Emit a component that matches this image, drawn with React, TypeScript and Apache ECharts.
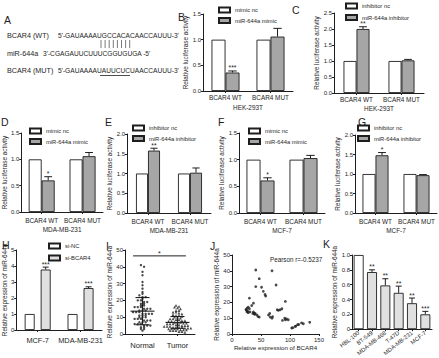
import React, { useEffect, useRef } from 'react';
import * as echarts from 'echarts';

const FONT = '"Liberation Sans Narrow", "Liberation Sans", Arial, sans-serif';
const FONT_W = '"Liberation Sans", Arial, sans-serif';
const INK = '#1e1e1e';
const GRAY = '#a6a6a6';
const LIGHT = '#e0e0e0';

// ---- Panel A ----
const seqLabels = ['BCAR4 (WT)', 'miR-644a', 'BCAR4 (MUT)'];
const seqTexts = ["5'-GAUAAAAUGCCACACAACCAUUU-3'", "3'-CGAGAUUCUUUCGGUGUGA -5'", "5'-GAUAAAAUAUUCUCUAACCAUUU-3'"];

// ---- Panels B-G (luciferase) ----
const lucCats = ['BCAR4 WT', 'BCAR4 MUT'];
const bNc = [1, 1]; const bMimic = [0.36, 1.06]; const bErr = [0.03, 0.16]; const bStars = ['***', ''];
const cNc = [1, 1]; const cInh = [2.0, 1.02]; const cErr = [0.07, 0.03]; const cStars = ['**', ''];
const dNc = [1, 1]; const dMimic = [0.6, 1.06]; const dErr = [0.07, 0.07]; const dStars = ['*', ''];
const eNc = [1, 1]; const eInh = [1.58, 1.02]; const eErr = [0.06, 0.12]; const eStars = ['**', ''];
const fNc = [1, 1]; const fMimic = [0.61, 1.03]; const fErr = [0.05, 0.05]; const fStars = ['*', ''];
const gNc = [1, 1]; const gInh = [1.48, 0.97]; const gErr = [0.07, 0.015]; const gStars = ['*', ''];

// ---- Panel H ----
const hCats = ['MCF-7', 'MDA-MB-231'];
const hNc = [1, 1]; const hSi = [3.78, 2.62]; const hErr = [0.15, 0.08]; const hStars = ['***', '***'];

// ---- Panel I ----
const iCats = ['Normal', 'Tumor'];
const iNormal = [41, 40, 37, 35, 31, 29, 27, 25, 24, 23, 22, 22, 21, 20, 20, 19, 19, 18, 18, 17, 17, 16, 16, 16, 15, 15, 15, 14, 14, 14, 13, 13, 13, 12, 12, 12, 12, 11, 11, 11, 10, 10, 10, 9, 9, 9, 8, 8, 8, 7, 7, 7, 6, 6, 6, 5, 5, 5, 4, 4, 3, 3, 2];
const iTumor = [17, 16.5, 16, 15.5, 15, 14, 14, 13, 13, 12.5, 12, 11.5, 11, 11, 10.5, 10, 10, 9.5, 9, 9, 8.5, 8.5, 8, 8, 7.5, 7.5, 7, 7, 7, 6.5, 6.5, 6, 6, 6, 5.5, 5.5, 5, 5, 5, 4.5, 4.5, 4.5, 4, 4, 4, 4, 3.5, 3.5, 3.5, 3, 3, 3, 3, 2.5, 2.5, 2.5, 2, 2, 2, 1.5, 1.5, 1];
const iMean = [13.6, 6.9];
const iSD = [8.1, 3.5];
const iSig = '*';

// ---- Panel J ----
const jBcar4 = [41, 69, 47, 41, 76, 51, 54, 57, 58, 30, 92, 37, 34, 26, 25, 27, 28, 30, 31, 26, 37, 38, 40, 43, 47, 65, 66, 69, 63, 78, 83, 86, 80, 91, 94, 97, 87, 92, 103, 105, 109, 110, 113, 115, 120, 123, 134, 36, 39, 24, 28, 45, 70];
const jMir = [40.5, 40, 35, 30, 31, 29.6, 27, 25, 24, 22.7, 20.6, 19.5, 18, 16.4, 15, 14.5, 13.5, 16, 14, 14, 14, 13, 13, 12, 10.7, 13, 10.7, 10, 12, 15.3, 15.3, 16, 15, 10, 9.5, 9, 8.6, 9, 3.8, 4, 4.8, 5, 5.9, 6, 7, 6.5, 7.4, 13, 12.5, 15.5, 17, 11, 11];
const jPearson = 'Pearson r=-0.5237';

// ---- Panel K ----
const kCats = ['HBL-100', 'BT-549', 'MDA-MB-468', 'T-47D', 'MDA-MB-231', 'MCF-7'];
const kVals = [1, 0.77, 0.59, 0.49, 0.35, 0.2];
const kErr = [0, 0.03, 0.09, 0.09, 0.07, 0.04];
const kStars = ['', '**', '**', '**', '**', '***'];

const txt = (size: number, family = FONT) => ({ fontSize: size, fontFamily: family, color: INK });
const axisLine = { show: true, lineStyle: { color: INK, width: 1 } };
const tick = (len: number, align = false) => ({ show: true, length: len, alignWithLabel: align, lineStyle: { color: INK, width: 1 } });

function buildOption() {
  const grids: any[] = [];
  const xAxes: any[] = [];
  const yAxes: any[] = [];
  const series: any[] = [];
  const legends: any[] = [];
  const graphics: any[] = [];
  const addGrid = (g: any) => { grids.push({ ...g, containLabel: false }); return grids.length - 1; };
  const addX = (a: any) => { xAxes.push(a); return xAxes.length - 1; };
  const addY = (a: any) => { yAxes.push(a); return yAxes.length - 1; };

  const yDef = (gi: number, max: number, interval: number, name: string, nameGap: number, fmt?: any) => ({
    type: 'value', gridIndex: gi, min: 0, max, interval,
    axisLine, axisTick: tick(2), splitLine: { show: false },
    axisLabel: { ...txt(6), margin: 2, formatter: fmt },
    name, nameLocation: 'middle', nameRotate: 90, nameGap, nameTextStyle: txt(6.4, FONT_W),
  });

  const errRender = (offset: number, cap: number, stars: string[]) => (params: any, api: any) => {
    const i = api.value(0);
    const v = api.value(1);
    const e = api.value(2);
    const base = api.coord([i, v]);
    const top = api.coord([i, v + e]);
    const x = base[0] + offset;
    const children: any[] = [];
    if (e > 0) {
      children.push({ type: 'line', shape: { x1: x, y1: base[1], x2: x, y2: top[1] }, style: { stroke: INK, lineWidth: 1 } });
      children.push({ type: 'line', shape: { x1: x - cap, y1: top[1], x2: x + cap, y2: top[1] }, style: { stroke: INK, lineWidth: 1 } });
    }
    const s = stars[params.dataIndex];
    if (s) {
      children.push({ type: 'text', x, y: top[1] + 0.5, style: { text: s, fontSize: 6.8, fontFamily: FONT_W, fill: INK, align: 'center', verticalAlign: 'bottom' } });
    }
    return { type: 'group', children };
  };

  const barPanel = (p: any) => {
    const gi = addGrid({ left: p.left, top: p.top, width: p.width, height: p.height });
    const xi = addX({
      type: 'category', gridIndex: gi, data: p.cats, axisLine, axisTick: tick(2, true),
      axisLabel: { ...txt(p.xfs || 6.4), margin: p.margin ?? 4, interval: 0 },
      name: p.cell, nameLocation: 'middle', nameGap: p.nameGap ?? 13, nameTextStyle: txt(p.xfs || 6.4),
    });
    const yi = addY(yDef(gi, p.max, p.interval, p.yName, p.yGap, p.fmt));
    const gapFrac = p.gap || 0;
    series.push({ type: 'bar', name: p.names[0], xAxisIndex: xi, yAxisIndex: yi, data: p.nc, barWidth: p.bw, barGap: (gapFrac * 100) + '%', itemStyle: { color: '#fff', borderColor: INK, borderWidth: 0.9 } });
    series.push({ type: 'bar', name: p.names[1], xAxisIndex: xi, yAxisIndex: yi, data: p.tr, barWidth: p.bw, barGap: (gapFrac * 100) + '%', itemStyle: { color: p.color, borderColor: INK, borderWidth: 0.9 } });
    series.push({
      type: 'custom', xAxisIndex: xi, yAxisIndex: yi, z: 5,
      renderItem: errRender((p.bw * (1 + gapFrac)) / 2, p.bw * 0.3, p.stars),
      data: p.cats.map((_: string, i: number) => [i, p.tr[i], p.err[i]]),
    });
    legends.push({
      orient: 'vertical', left: p.lx, top: p.ly, itemWidth: 11, itemHeight: 5, itemGap: p.lgap ?? 3.5,
      data: p.names, textStyle: txt(5.8), padding: 0, selectedMode: false, icon: 'rect',
    });
  };

  const fmt1 = (v: number) => v.toFixed(1);
  const lucName = 'Relative luciferase activity';
  barPanel({ left: 203, top: 14, width: 90, height: 77, cats: lucCats, nc: bNc, tr: bMimic, err: bErr, stars: bStars, names: ['mimic nc', 'miR-644a mimic'], color: GRAY, max: 1.5, interval: 0.5, fmt: fmt1, yName: lucName, yGap: 10, cell: 'HEK-293T', bw: 14, lx: 218, ly: 6.5, margin: 3, nameGap: 13 });
  barPanel({ left: 334, top: 13, width: 90, height: 80, cats: lucCats, nc: cNc, tr: cInh, err: cErr, stars: cStars, names: ['inhibitor nc', 'miR-644a inhibitor'], color: GRAY, max: 2.5, interval: 0.5, fmt: fmt1, yName: lucName, yGap: 10, cell: 'HEK-293T', bw: 13, lx: 345, ly: 2.5, lgap: 4.5, margin: 3, nameGap: 12 });
  barPanel({ left: 19, top: 133, width: 84, height: 79, cats: lucCats, nc: dNc, tr: dMimic, err: dErr, stars: dStars, names: ['mimic nc', 'miR-644a mimic'], color: GRAY, max: 1.5, interval: 0.5, fmt: fmt1, yName: lucName, yGap: 10, cell: 'MDA-MB-231', bw: 13, lx: 29, ly: 127.5, margin: 5, nameGap: 14 });
  barPanel({ left: 127, top: 134, width: 84, height: 79, cats: lucCats, nc: eNc, tr: eInh, err: eErr, stars: eStars, names: ['inhibitor nc', 'miR-644a inhibitor'], color: GRAY, max: 2.0, interval: 0.5, fmt: fmt1, yName: lucName, yGap: 10, cell: 'MDA-MB-231', bw: 12, lx: 132, ly: 124.5, margin: 5, nameGap: 14 });
  barPanel({ left: 239, top: 133, width: 86, height: 80, cats: lucCats, nc: fNc, tr: fMimic, err: fErr, stars: fStars, names: ['mimic nc', 'miR-644a mimic'], color: GRAY, max: 1.5, interval: 0.5, fmt: fmt1, yName: lucName, yGap: 10, cell: 'MCF-7', bw: 14, lx: 248, ly: 127.5, margin: 5, nameGap: 14 });
  barPanel({ left: 355, top: 135, width: 82, height: 78, cats: lucCats, nc: gNc, tr: gInh, err: gErr, stars: gStars, names: ['inhibitor nc', 'miR-644a inhibitor'], color: GRAY, max: 2.0, interval: 0.5, fmt: fmt1, yName: lucName, yGap: 10, cell: 'MCF-7', bw: 13, lx: 357, ly: 124.5, margin: 5, nameGap: 14 });
  barPanel({ left: 16, top: 250, width: 86, height: 80, cats: hCats, nc: hNc, tr: hSi, err: hErr, stars: hStars, names: ['si-NC', 'si-BCAR4'], color: LIGHT, max: 5, interval: 1, yName: 'Relative expression of miR-644a', yGap: 6, bw: 10, gap: 0.6, lx: 48, ly: 242.5, lgap: 5, margin: 7, xfs: 7.4, cell: '' });

  // ---- Panel I ----
  const giI = addGrid({ left: 125, top: 250, width: 70, height: 84 });
  addX({ type: 'category', gridIndex: giI, data: iCats, axisLine, axisTick: tick(2, true), axisLabel: { ...txt(7.6), margin: 7 } });
  const xiI2 = addX({ type: 'value', gridIndex: giI, min: 0, max: 2, show: false });
  const yiI = addY(yDef(giI, 50, 10, 'Relative expression of miR-644a', 8));
  const swarm = (vals: number[], center: number, binSize: number, step: number) => {
    const bins = new Map<number, number[]>();
    vals.forEach((v) => {
      const b = Math.round(v / binSize);
      if (!bins.has(b)) bins.set(b, []);
      bins.get(b)!.push(v);
    });
    const out: number[][] = [];
    bins.forEach((list) => {
      const n = list.length;
      list.forEach((v, j) => out.push([center + (j - (n - 1) / 2) * step, v]));
    });
    return out;
  };
  series.push({ type: 'scatter', xAxisIndex: xiI2, yAxisIndex: yiI, data: swarm(iNormal, 0.5, 1.4, 0.09), symbol: 'circle', symbolSize: 2.4, itemStyle: { color: INK } });
  series.push({ type: 'scatter', xAxisIndex: xiI2, yAxisIndex: yiI, data: swarm(iTumor, 1.5, 1.4, 0.085), symbol: 'triangle', symbolSize: 2.8, itemStyle: { color: INK } });
  series.push({
    type: 'custom', xAxisIndex: xiI2, yAxisIndex: yiI, z: 5,
    data: [[0.5, iMean[0], iSD[0]], [1.5, iMean[1], iSD[1]]],
    renderItem: (params: any, api: any) => {
      const x = api.value(0), m = api.value(1), s = api.value(2);
      const c = api.coord([x, m]);
      const t = api.coord([x, m + s]);
      const b = api.coord([x, m - s]);
      const st = { stroke: INK, lineWidth: 1.1 };
      return {
        type: 'group', children: [
          { type: 'line', shape: { x1: c[0] - 12, y1: c[1], x2: c[0] + 12, y2: c[1] }, style: st },
          { type: 'line', shape: { x1: c[0], y1: t[1], x2: c[0], y2: b[1] }, style: st },
          { type: 'line', shape: { x1: c[0] - 7, y1: t[1], x2: c[0] + 7, y2: t[1] }, style: st },
          { type: 'line', shape: { x1: c[0] - 7, y1: b[1], x2: c[0] + 7, y2: b[1] }, style: st },
        ],
      };
    },
  });
  series.push({
    type: 'custom', xAxisIndex: xiI2, yAxisIndex: yiI, z: 5,
    data: [[0.23, 46.5, 1.74]],
    renderItem: (params: any, api: any) => {
      const a = api.coord([api.value(0), api.value(1)]);
      const b = api.coord([api.value(2), api.value(1)]);
      return {
        type: 'group', children: [
          { type: 'line', shape: { x1: a[0], y1: a[1], x2: b[0], y2: b[1] }, style: { stroke: INK, lineWidth: 1 } },
          { type: 'text', x: (a[0] + b[0]) / 2, y: a[1] + 1, style: { text: iSig, fontSize: 7, fontFamily: FONT_W, fill: INK, align: 'center', verticalAlign: 'bottom' } },
        ],
      };
    },
  });

  // ---- Panel J ----
  const giJ = addGrid({ left: 232, top: 255, width: 87, height: 79 });
  const xiJ = addX({
    type: 'value', gridIndex: giJ, min: 0, max: 150, interval: 50, axisLine, axisTick: tick(2), splitLine: { show: false },
    axisLabel: { ...txt(6), margin: 3 }, name: 'Relative expression of BCAR4', nameLocation: 'middle', nameGap: 10, nameTextStyle: txt(6.2),
  });
  const yiJ = addY(yDef(giJ, 50, 10, 'Relative expression of miR-644a', 9));
  series.push({ type: 'scatter', xAxisIndex: xiJ, yAxisIndex: yiJ, data: jBcar4.map((x, i) => [x, jMir[i]]), symbolSize: 2.8, itemStyle: { color: INK } });
  graphics.push({ type: 'text', x: 270, y: 259, style: { text: jPearson, fontSize: 6.3, fontFamily: FONT, fill: INK, verticalAlign: 'middle' } });

  // ---- Panel K ----
  const giK = addGrid({ left: 352, top: 255, width: 80, height: 79 });
  const xiK = addX({ type: 'category', gridIndex: giK, data: kCats, axisLine, axisTick: tick(2, true), axisLabel: { ...txt(5.8), margin: 3, rotate: 38, interval: 0 } });
  const yiK = addY(yDef(giK, 1, 0.2, 'Relative expression of miR-644a', 11, (v: number) => (v === 0 ? '0' : v.toFixed(1))));
  series.push({
    type: 'bar', xAxisIndex: xiK, yAxisIndex: yiK, barWidth: 10,
    data: kVals.map((v, i) => ({ value: v, itemStyle: { color: i === 0 ? '#fff' : LIGHT, borderColor: INK, borderWidth: 0.9 } })),
  });
  series.push({ type: 'custom', xAxisIndex: xiK, yAxisIndex: yiK, z: 5, renderItem: errRender(0, 3, kStars), data: kCats.map((_, i) => [i, kVals[i], kErr[i]]) });

  // ---- Panel A graphics ----
  const rowY = [35, 53, 70];
  const seqX = [58, 43, 58];
  seqLabels.forEach((l, i) => {
    graphics.push({ type: 'text', x: 7, y: rowY[i], style: { text: l, fontSize: 7.2, fontFamily: FONT_W, fill: INK, verticalAlign: 'middle' } });
    graphics.push({ type: 'text', x: seqX[i], y: rowY[i], style: { text: seqTexts[i], fontSize: 6.6, fontFamily: FONT_W, fill: INK, verticalAlign: 'middle' } });
  });
  for (let k = 0; k < 8; k++) {
    const x = 101 + k * 4.1;
    graphics.push({ type: 'line', shape: { x1: x, y1: 40, x2: x, y2: 48 }, style: { stroke: INK, lineWidth: 0.6 } });
  }
  graphics.push({ type: 'line', shape: { x1: 100, y1: 75.5, x2: 130, y2: 75.5 }, style: { stroke: INK, lineWidth: 0.8 } });

  // panel letters
  const letters: [string, number, number][] = [
    ['A', 4, 14], ['B', 178, 11], ['C', 292, 4], ['D', 1, 116], ['E', 105, 116], ['F', 218, 116],
    ['G', 358, 116], ['H', 2, 239], ['I', 106, 240], ['J', 210, 240], ['K', 323, 238],
  ];
  letters.forEach(([t, x, y]) => graphics.push({ type: 'text', x, y, style: { text: t, fontSize: 10.5, fontFamily: FONT_W, fill: INK, verticalAlign: 'top' } }));

  return {
    animation: false,
    backgroundColor: '#fff',
    grid: grids,
    xAxis: xAxes,
    yAxis: yAxes,
    legend: legends,
    series,
    graphic: graphics,
  };
}

export default function App() {
  const ref = useRef<HTMLDivElement>(null);
  useEffect(() => {
    const chart = echarts.init(ref.current!, null, { renderer: 'svg' });
    chart.setOption(buildOption() as any);
    return () => chart.dispose();
  }, []);
  return <div ref={ref} style={{ position: 'fixed', left: 0, top: 0, width: 439, height: 358, background: '#fff' }} />;
}
